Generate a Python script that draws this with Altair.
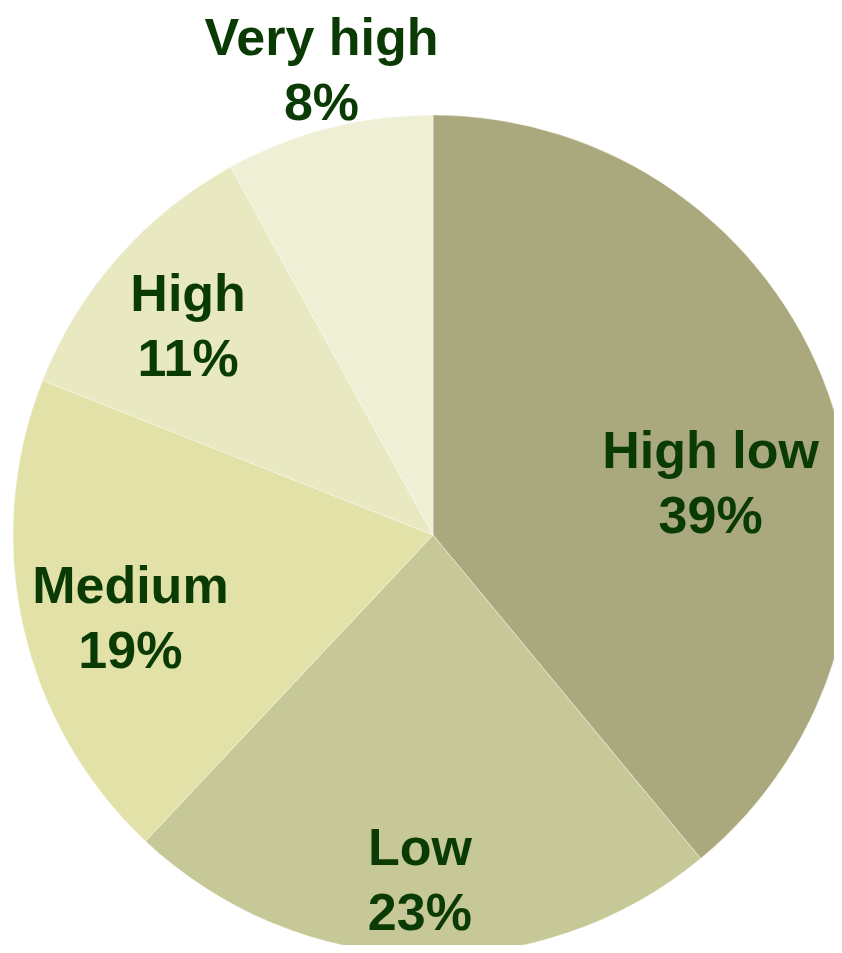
import altair as alt
import pandas as pd

categories = ["High low", "Low", "Medium", "High", "Very high"]
values = [39, 23, 19, 11, 8]
colors = ["#A9A97D", "#C7C897", "#E2E1A8", "#E8E8C1", "#EFEFD6"]

# label layout (pixels / degrees), not data
label_radius = [283, 342, 313, 324, 481]
label_nudge = [8.6, 0.4, -2.2, -0.5, 1.0]

CX, CY, R = 425, 527, 420

df = pd.DataFrame({
    "idx": list(range(len(categories))),
    "category": categories,
    "value": values,
    "lr": label_radius,
    "ln": label_nudge,
})
df["label"] = [f"{c}\n{v}%" for c, v in zip(categories, values)]

base = alt.Chart(df)

pie = base.mark_arc(outerRadius=R, stroke="white", strokeWidth=0.4).encode(
    theta=alt.Theta("value:Q", stack=True),
    color=alt.Color("category:N", scale=alt.Scale(domain=categories, range=colors), legend=None),
    order=alt.Order("idx:Q"),
    x=alt.value(CX),
    y=alt.value(CY),
)

labels = base.transform_joinaggregate(
    total="sum(value)"
).transform_window(
    cum="sum(value)", sort=[alt.SortField("idx")]
).transform_calculate(
    ang="(datum.cum - datum.value/2)/datum.total*2*PI + datum.ln*PI/180"
).transform_calculate(
    px=f"{CX} + datum.lr*sin(datum.ang)",
    py=f"{CY} - datum.lr*cos(datum.ang)",
).mark_text(
    font="Liberation Sans", fontWeight="bold", fontSize=52, lineHeight=65,
    color="#0B3B05", lineBreak="\n", align="center", baseline="middle", dy=-28,
).encode(
    x=alt.X("px:Q", scale=None),
    y=alt.Y("py:Q", scale=None),
    text="label:N",
)

chart = alt.layer(pie, labels).properties(
    width=826, height=937, padding=0, autosize=alt.AutoSizeParams(type="none")
).configure_view(stroke=None, clip=False)

chart.save("out.html", embed_options={"renderer": "svg", "actions": False})
